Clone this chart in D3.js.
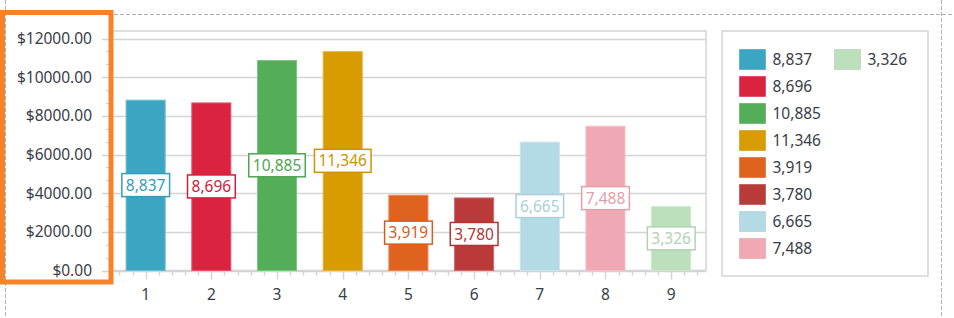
<!DOCTYPE html>
<html lang="en">
<head>
<meta charset="UTF-8">
<title>Bar chart</title>
<style>
  body { margin: 0; background: #fff; }
  svg { display: block; font-family: "Noto Sans", "Liberation Sans", sans-serif; }
</style>
</head>
<body>
<div id="chart"></div>
<script src="https://d3js.org/d3.v7.min.js"></script>
<script>
// data
const categories = ["1", "2", "3", "4", "5", "6", "7", "8", "9"];
const values = [8837, 8696, 10885, 11346, 3919, 3780, 6665, 7488, 3326];
const colors = ["#3ca5c2", "#da233e", "#53ae57", "#d89b00", "#e0621f",
                "#b93a39", "#b4dbe5", "#f0a9b4", "#bcdfbc"];
const yTicks = [0, 2000, 4000, 6000, 8000, 10000, 12000];

const W = 954, H = 318;
const plot = { left: 110, right: 706, top: 31, bottom: 270.5 };
const textColor = "#3a3d48";
const gridColor = "#d4d4d4";

const svg = d3.select("#chart").append("svg")
  .attr("width", W).attr("height", H);

// dashed guides of the designer surface
svg.append("line")
  .attr("x1", 0).attr("x2", W).attr("y1", 14.5).attr("y2", 14.5)
  .attr("stroke", "#b0b0b0").attr("stroke-dasharray", "4,2");
svg.append("line")
  .attr("x1", 5.5).attr("x2", 5.5).attr("y1", 0).attr("y2", H)
  .attr("stroke", "#b0b0b0").attr("stroke-dasharray", "4,2");
svg.append("line")
  .attr("x1", 941.5).attr("x2", 941.5).attr("y1", 0).attr("y2", H)
  .attr("stroke", "#b0b0b0").attr("stroke-dasharray", "4,2");

// scales
const x = d3.scaleBand().domain(categories).range([112.8, 704]).paddingInner(0.39).paddingOuter(0.195);
const y = d3.scaleLinear().domain([0, 12390]).range([plot.bottom, plot.top]);
// continuous version of the category axis, for the minor ticks
const xc = d3.scaleLinear().domain([0.5, 9.5]).range([112.8, 704]);

// grid lines
svg.append("g")
  .selectAll("line")
  .data(yTicks)
  .join("line")
  .attr("x1", 102).attr("x2", plot.right)
  .attr("y1", d => Math.round(y(d)) + 0.5)
  .attr("y2", d => Math.round(y(d)) + 0.5)
  .attr("stroke", gridColor).attr("stroke-width", 1.5);

// minor y ticks
const yMinor = d3.range(0, 12001, 2000 / 3).filter(v => Math.round(v) % 2000 !== 0);
svg.append("g")
  .selectAll("line")
  .data(yMinor)
  .join("line")
  .attr("x1", 106).attr("x2", plot.left)
  .attr("y1", d => Math.round(y(d)) + 0.5)
  .attr("y2", d => Math.round(y(d)) + 0.5)
  .attr("stroke", gridColor).attr("stroke-width", 1.5);

// plot border
svg.append("rect")
  .attr("x", plot.left).attr("y", plot.top)
  .attr("width", plot.right - plot.left).attr("height", plot.bottom - plot.top)
  .attr("fill", "none").attr("stroke", gridColor).attr("stroke-width", 1.5);

// y axis labels
svg.append("g")
  .selectAll("text")
  .data(yTicks)
  .join("text")
  .attr("x", 92)
  .attr("y", d => y(d))
  .attr("dy", "0.36em")
  .attr("text-anchor", "end")
  .attr("font-size", 15.5)
  .attr("fill", textColor)
  .text(d => "$" + d3.format(".2f")(d));

// x ticks: majors at categories, minors every 0.2
svg.append("g")
  .selectAll("line")
  .data(categories)
  .join("line")
  .attr("x1", d => Math.round(x(d) + x.bandwidth() / 2) + 0.5)
  .attr("x2", d => Math.round(x(d) + x.bandwidth() / 2) + 0.5)
  .attr("y1", plot.bottom).attr("y2", plot.bottom + 9)
  .attr("stroke", gridColor).attr("stroke-width", 1.5);
const xMinor = d3.range(0.6, 9.5, 0.2).filter(v => Math.abs(v - Math.round(v)) > 0.05);
svg.append("g")
  .selectAll("line")
  .data(xMinor)
  .join("line")
  .attr("x1", d => Math.round(xc(d)) + 0.5)
  .attr("x2", d => Math.round(xc(d)) + 0.5)
  .attr("y1", plot.bottom).attr("y2", plot.bottom + 5)
  .attr("stroke", gridColor).attr("stroke-width", 1.5);

svg.append("g")
  .selectAll("text")
  .data(categories)
  .join("text")
  .attr("x", d => x(d) + x.bandwidth() / 2)
  .attr("y", 300)
  .attr("text-anchor", "middle")
  .attr("font-size", 15.5)
  .attr("fill", textColor)
  .text(d => d);

// bars
svg.append("g")
  .selectAll("rect")
  .data(values)
  .join("rect")
  .attr("x", (d, i) => x(categories[i]) + 0.5)
  .attr("y", d => y(d) + 0.5)
  .attr("width", x.bandwidth() - 1)
  .attr("height", d => y(0) - y(d) - 0.5)
  .attr("fill", (d, i) => colors[i])
  .attr("stroke", (d, i) => d3.interpolateRgb(colors[i], "#fff")(0.25));

// value labels in the middle of each bar
const fmt = d3.format(",");
const labels = svg.append("g")
  .selectAll("g")
  .data(values)
  .join("g")
  .attr("transform", (d, i) => `translate(${x(categories[i]) + x.bandwidth() / 2},${(y(d) + y(0)) / 2})`);
labels.append("text")
  .attr("text-anchor", "middle")
  .attr("dy", "0.36em")
  .attr("font-size", 15.5)
  .attr("fill", (d, i) => d3.color(colors[i]).darker(0.15))
  .text(d => fmt(d))
  .each(function () {
    const b = this.getBBox();
    d3.select(this.parentNode).insert("rect", "text")
      .attr("x", b.x - 4).attr("y", -11.5)
      .attr("width", b.width + 8).attr("height", 23)
      .attr("fill", "#fff")
      .attr("stroke", (d, i) => d3.color(colors[values.indexOf(d)]).darker(0.15))
      .attr("stroke-width", 1.5);
  });

// legend
const lg = { x: 722, y: 31, w: 206, h: 245 };
svg.append("rect")
  .attr("x", lg.x).attr("y", lg.y).attr("width", lg.w).attr("height", lg.h)
  .attr("fill", "#fff").attr("stroke", gridColor).attr("stroke-width", 1.5);
const items = svg.append("g")
  .selectAll("g")
  .data(values)
  .join("g")
  .attr("transform", (d, i) => i < 8
    ? `translate(${lg.x + 17.5},${lg.y + 18.5 + i * 27})`
    : `translate(${lg.x + 112.5},${lg.y + 18.5 + (i - 8) * 27})`);
items.append("rect")
  .attr("width", 26).attr("height", 20)
  .attr("fill", (d, i) => colors[i])
  .attr("stroke", (d, i) => d3.color(colors[i]).darker(0.3))
  .attr("stroke-opacity", 0.5);
items.append("text")
  .attr("x", 33).attr("y", 10)
  .attr("dy", "0.36em")
  .attr("font-size", 15.5)
  .attr("fill", textColor)
  .text(d => fmt(d));

// orange highlight around the value axis
svg.append("rect")
  .attr("x", 2.5).attr("y", 12.5).attr("width", 108.5).attr("height", 269.5)
  .attr("fill", "none").attr("stroke", "#f7822a").attr("stroke-width", 5);
</script>
</body>
</html>
